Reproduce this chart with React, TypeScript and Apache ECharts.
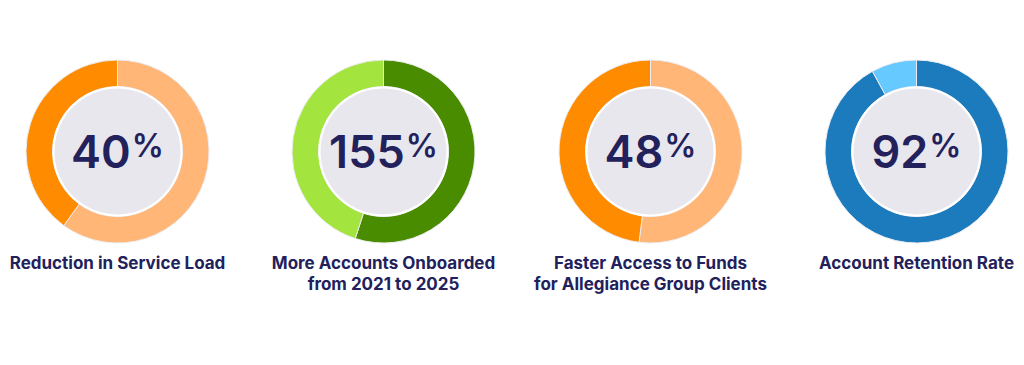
import React, { useEffect, useRef } from "react";
import * as echarts from "echarts";

// ---- data ----
const categories = [
  "Reduction in Service Load",
  "More Accounts Onboarded\nfrom 2021 to 2025",
  "Faster Access to Funds\nfor Allegiance Group Clients",
  "Account Retention Rate",
];
const headlineNumbers = ["40", "155", "48", "92"];
// segment values in clockwise order from 12 o'clock
const firstSegment = [60, 55, 52, 92];
const secondSegment = [40, 45, 48, 8];

// ---- styles ----
const palettes = [
  ["#ffb677", "#ff8c00"],
  ["#4a8c00", "#a3e43f"],
  ["#ffb677", "#ff8c00"],
  ["#1b7bbd", "#66c9ff"],
];
const centersX = [117.5, 383.5, 650.5, 916.5];
const centerY = 151.5;
const textColor = "#22215c";
const FONT = "Inter, 'Noto Sans', sans-serif";

export default function App() {
  const ref = useRef<HTMLDivElement>(null);
  useEffect(() => {
    document.body.style.margin = "0";
    const chart = echarts.init(ref.current!, null, { renderer: "svg" });
    const series: any[] = [];
    categories.forEach((_, i) => {
      series.push({
        type: "pie",
        center: [centersX[i], centerY],
        radius: [65, 91.5],
        startAngle: 90,
        clockwise: true,
        silent: true,
        label: { show: false },
        labelLine: { show: false },
        itemStyle: { borderColor: "#ececf0", borderWidth: 1 },
        data: [
          { value: firstSegment[i], itemStyle: { color: palettes[i][0] } },
          { value: secondSegment[i], itemStyle: { color: palettes[i][1] } },
        ],
      });
      series.push({
        type: "pie",
        center: [centersX[i], centerY],
        radius: [0, 64],
        silent: true,
        itemStyle: { color: "#e8e7ed", borderColor: "#ffffff", borderWidth: 2 },
        label: {
          show: true,
          position: "center",
          formatter: `{n|${headlineNumbers[i]}}{p|%}`,
          rich: {
            n: { fontFamily: FONT, fontWeight: 600, fontSize: 45, color: textColor, lineHeight: 50 },
            p: { fontFamily: FONT, fontWeight: 600, fontSize: 32, color: textColor, lineHeight: 50, padding: [0, 0, 12, 1] },
          },
        },
        labelLine: { show: false },
        data: [{ value: 1 }],
      });
    });
    chart.setOption({
      animation: false,
      title: categories.map((c, i) => ({
        text: c,
        left: centersX[i],
        top: 252,
        padding: 0,
        textAlign: "center",
        textStyle: {
          fontFamily: FONT,
          fontWeight: 700,
          fontSize: 17,
          color: textColor,
          lineHeight: 21,
        },
      })),
      series,
    });
    return () => chart.dispose();
  }, []);
  return <div ref={ref} style={{ width: 1024, height: 365 }} />;
}
